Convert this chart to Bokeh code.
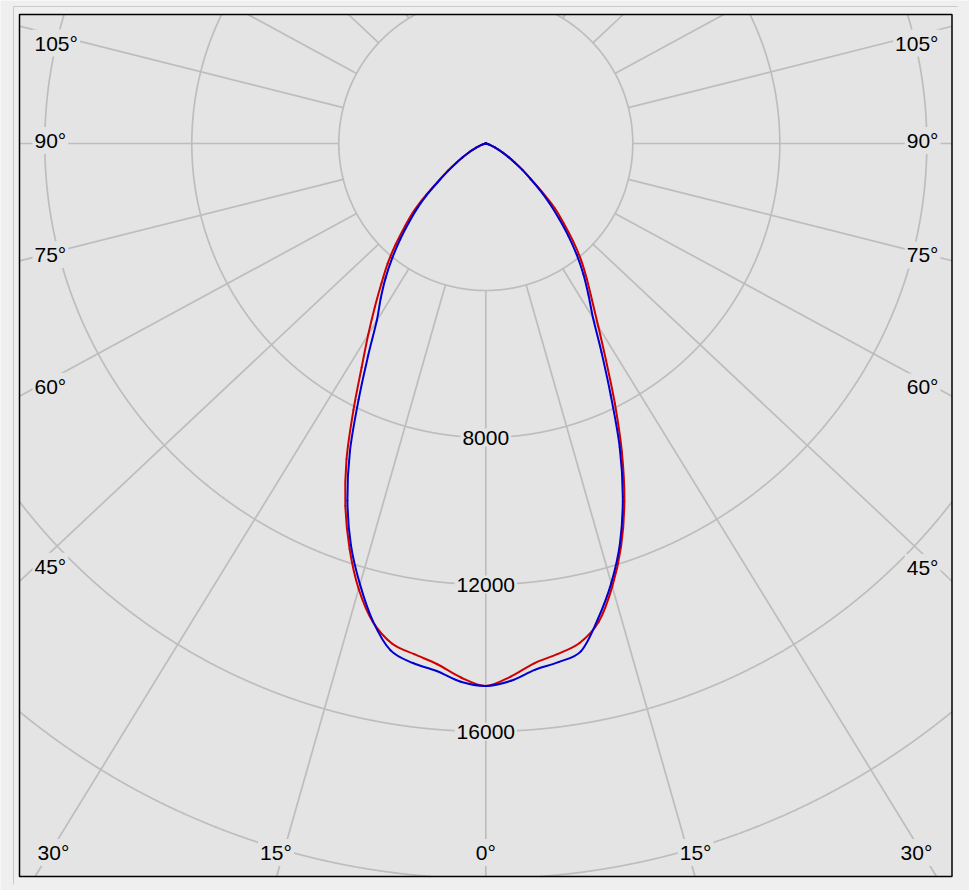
import math
from bokeh.plotting import figure
from bokeh.models import Range1d, Label
from bokeh.embed import file_html
from bokeh.resources import INLINE

# ---------------- data ----------------
gamma_deg = [0, 2.5, 5, 7.5, 10, 12.5, 15, 17.5, 20, 22.5, 25, 27.5, 30, 32.5, 35,
             37.5, 40, 42.5, 45, 47.5, 50, 52.5, 55, 57.5, 60, 62.5, 65, 67.5, 70,
             72.5, 75, 77.5, 80, 82.5, 85, 87.5, 90]

# luminous intensity (cd), red plane: left half and right half
red_left = [14760, 14544, 14224, 14016, 13813, 13333, 12549, 11571, 10492, 9298,
            8000, 6871, 6009, 5276, 4650, 4120, 3580, 3060, 2600, 2060, 1560, 1220,
            930, 700, 520, 380, 270, 185, 120, 80, 50, 30, 16, 8, 3, 1, 0]
red_right = [14760, 14523, 14198, 14013, 13802, 13331, 12483, 11495, 10353, 9084,
             7800, 6650, 5750, 5050, 4500, 4000, 3470, 2950, 2500, 1950, 1480, 1180,
             900, 690, 510, 375, 265, 180, 118, 78, 50, 30, 16, 8, 3, 1, 0]
# blue plane
blue_left = [14760, 14661, 14408, 14259, 14006, 13317, 12420, 11460, 10337, 9074,
             7690, 6513, 5574, 4997, 4463, 3924, 3402, 2904, 2450, 1980, 1520, 1200,
             920, 700, 520, 380, 270, 185, 120, 80, 50, 30, 16, 8, 3, 1, 0]
blue_right = [14760, 14635, 14376, 14233, 14025, 13246, 12385, 11403, 10234, 8941,
              7550, 6400, 5480, 4880, 4350, 3820, 3280, 2760, 2300, 1870, 1480, 1180,
              900, 690, 510, 375, 265, 180, 118, 78, 50, 30, 16, 8, 3, 1, 0]

ring_values = [4000, 8000, 12000, 16000, 20000, 24000]
ring_label_values = [8000, 12000, 16000]
spoke_angles = [0, 15, 30, 45, 60, 75, 90, 105, 120, 135, 150, 165]
side_label_angles = [105, 90, 75, 60, 45]
bottom_label_angles = [30, 15, 0, 15, 30]
bottom_label_sides = [-1, -1, 0, 1, 1]

# ---------------- layout / style ----------------
PX_PER_CD = 147.0 / 4000.0
CENTER_PX = (485.3, 143.0)
STRETCH = 1.065          # horizontal stretch of the angular grid in the original
FIG_W, FIG_H = 969, 890
FRAME_L, FRAME_T, FRAME_R, FRAME_B = 19, 14, 951.5, 876
INNER_R = 4000
FONT = "Liberation Sans"
FONT_SIZE = "21px"

PAGE_BG = "#efefef"
PLOT_BG = "#e4e4e4"
GRID = "#bdbdbd"
RED = "#d00000"
BLUE = "#0000d0"


def X(px):
    return (px - CENTER_PX[0]) / PX_PER_CD


def Y(py):
    return (CENTER_PX[1] - py) / PX_PER_CD


XL, XR, YT, YB = X(FRAME_L), X(FRAME_R), Y(FRAME_T), Y(FRAME_B)


def inside(x, y):
    return XL <= x <= XR and YB <= y <= YT


def direction(angle_deg, side):
    a = math.radians(angle_deg)
    dx, dy = side * STRETCH * math.sin(a), -math.cos(a)
    n = math.hypot(dx, dy)
    return dx / n, dy / n


p = figure(width=FIG_W, height=FIG_H,
           x_range=Range1d(X(0), X(FIG_W)),
           y_range=Range1d(Y(FIG_H), Y(0)),
           output_backend="svg", toolbar_location=None, min_border=0,
           x_axis_type=None, y_axis_type=None, outline_line_color=None,
           background_fill_color=PAGE_BG, border_fill_color=PAGE_BG)

# plot area
p.quad(left=[XL], right=[XR], top=[YT], bottom=[YB], fill_color=PLOT_BG, line_color=None)

# rings, kept inside the plot frame
ring_xs, ring_ys = [], []
for r in ring_values:
    cur_x, cur_y = [], []
    steps = 7200
    for k in range(steps + 1):
        t = 2 * math.pi * k / steps
        x, y = r * math.sin(t), -r * math.cos(t)
        if inside(x, y):
            cur_x.append(x)
            cur_y.append(y)
        elif cur_x:
            ring_xs.append(cur_x)
            ring_ys.append(cur_y)
            cur_x, cur_y = [], []
    if cur_x:
        ring_xs.append(cur_x)
        ring_ys.append(cur_y)
p.multi_line(ring_xs, ring_ys, line_color=GRID, line_width=1.7)

# spokes, from the inner ring to the plot frame
x0s, y0s, x1s, y1s = [], [], [], []
for a in spoke_angles:
    for side in ([1] if a == 0 else [-1, 1]):
        ux, uy = direction(a, side)
        sx, sy = INNER_R * ux, INNER_R * uy
        if not inside(sx, sy):
            continue
        tmax = []
        if ux > 1e-12:
            tmax.append((XR - sx) / ux)
        if ux < -1e-12:
            tmax.append((XL - sx) / ux)
        if uy > 1e-12:
            tmax.append((YT - sy) / uy)
        if uy < -1e-12:
            tmax.append((YB - sy) / uy)
        t = min(tmax)
        x0s.append(sx)
        y0s.append(sy)
        x1s.append(sx + t * ux)
        y1s.append(sy + t * uy)
p.segment(x0=x0s, y0=y0s, x1=x1s, y1=y1s, line_color=GRID, line_width=1.7)

# frame and group box lines
p.quad(left=[XL], right=[XR], top=[YT], bottom=[YB],
       fill_color=None, line_color="black", line_width=1.5)
p.segment(x0=[X(13), X(13)], y0=[Y(6), Y(6)], x1=[X(13), X(957)], y1=[Y(884), Y(6)],
          line_color="#c9c9c9", line_width=1)


# curves: polar points joined by smooth (Catmull-Rom) cubic Bezier pieces
def curve_points(left_vals, right_vals):
    pts = []
    for g, i in reversed(list(zip(gamma_deg, left_vals))):
        a = math.radians(g)
        pts.append((-STRETCH * i * math.sin(a), -i * math.cos(a)))
    for g, i in list(zip(gamma_deg, right_vals))[1:]:
        a = math.radians(g)
        pts.append((STRETCH * i * math.sin(a), -i * math.cos(a)))
    return pts


def draw_smooth(pts, color):
    n = len(pts)
    x0, y0, x1, y1, cx0, cy0, cx1, cy1 = ([] for _ in range(8))
    for k in range(n - 1):
        pa = pts[max(k - 1, 0)]
        pb = pts[k]
        pc = pts[k + 1]
        pd = pts[min(k + 2, n - 1)]
        x0.append(pb[0]); y0.append(pb[1])
        x1.append(pc[0]); y1.append(pc[1])
        cx0.append(pb[0] + (pc[0] - pa[0]) / 6.0)
        cy0.append(pb[1] + (pc[1] - pa[1]) / 6.0)
        cx1.append(pc[0] - (pd[0] - pb[0]) / 6.0)
        cy1.append(pc[1] - (pd[1] - pb[1]) / 6.0)
    p.bezier(x0=x0, y0=y0, x1=x1, y1=y1, cx0=cx0, cy0=cy0, cx1=cx1, cy1=cy1,
             line_color=color, line_width=2, line_cap="round")


draw_smooth(curve_points(red_left, red_right), RED)
draw_smooth(curve_points(blue_left, blue_right), BLUE)


def add_label(x, y, text, align):
    p.add_layout(Label(x=x, y=y, text=text, text_align=align, text_baseline="middle",
                       text_font=FONT, text_font_size=FONT_SIZE, text_color="black",
                       background_fill_color=PLOT_BG, padding=2))


# ring value labels
for v in ring_label_values:
    add_label(0, -v, str(v), "center")

# side angle labels
for a in side_label_angles:
    for side, xpx, align in ((-1, 32, "left"), (1, 940, "right")):
        xd = X(xpx)
        sa = math.sin(math.radians(a))
        t = xd / (side * STRETCH * sa)
        yd = -t * math.cos(math.radians(a)) + 3 / PX_PER_CD
        yd = min(yd, Y(42.5))
        add_label(xd, yd, f"{a}°", align)

# bottom angle labels
yb = Y(852)
for a, side in zip(bottom_label_angles, bottom_label_sides):
    if side == 0:
        xd = 0.0
    else:
        t = yb / (-math.cos(math.radians(a)))
        xd = side * (STRETCH * math.sin(math.radians(a)) * t + 7.5 / PX_PER_CD)
        xd = max(min(xd, X(916)), X(53))
    add_label(xd, yb, f"{a}°", "center")

html = file_html(p, INLINE)
html = html.replace("<body>",
                    '<body style="margin:0;overflow:hidden;background-color:#efefef;">', 1)
open("out.html", "w").write(html)
